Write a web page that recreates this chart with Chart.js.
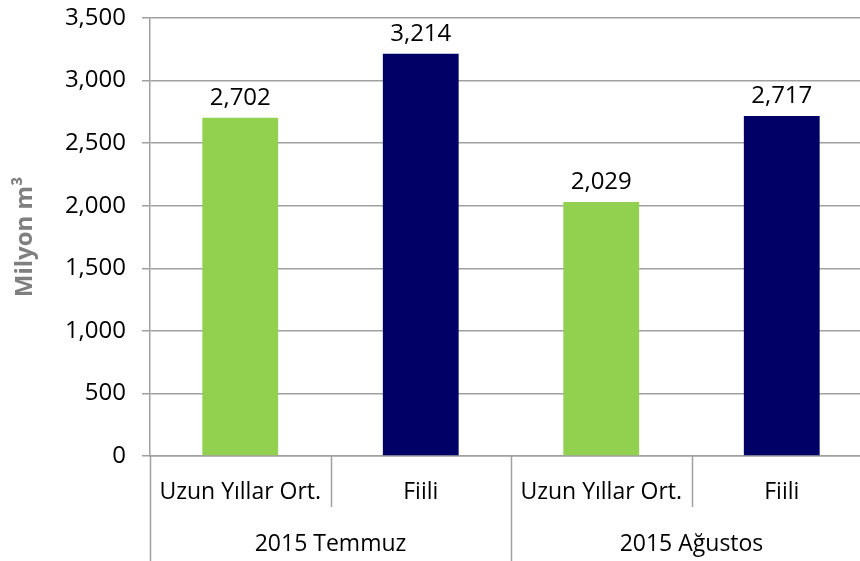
<!DOCTYPE html>
<html>
<head>
<meta charset="utf-8">
<script src="https://cdn.jsdelivr.net/npm/chart.js@4.4.1/dist/chart.umd.min.js"></script>
<style>
    html, body { margin: 0; padding: 0; overflow: hidden; background: #fff; }
    #wrap { position: relative; width: 872px; height: 561px; }
</style>
</head>
<body>
<div id="wrap"><canvas id="waterChart"></canvas></div>
<script>
const categories = ['Uzun Yıllar Ort.', 'Fiili', 'Uzun Yıllar Ort.', 'Fiili'];
const months = ['2015 Temmuz', '2015 Ağustos'];
const volumes = [2702, 3214, 2029, 2717];
const yTicks = [0, 500, 1000, 1500, 2000, 2500, 3000, 3500];
const barColors = ['#92d050', '#000066', '#92d050', '#000066'];

const fontFamily = "'Open Sans', 'DejaVu Sans', sans-serif";
const gridGray = '#a0a0a0';

// value labels above each bar
const valueLabels = {
    id: 'valueLabels',
    afterDatasetsDraw(chart) {
        const ctx = chart.ctx;
        const meta = chart.getDatasetMeta(0);
        ctx.save();
        ctx.font = `24px ${fontFamily}`;
        ctx.fillStyle = '#000';
        ctx.textAlign = 'center';
        ctx.textBaseline = 'alphabetic';
        meta.data.forEach((bar, i) => {
            ctx.fillText(volumes[i].toLocaleString('en-US'), bar.x, bar.y - 13);
        });
        ctx.restore();
    }
};

// separators between the category / month labels
const separators = {
    id: 'separators',
    afterDraw(chart) {
        const ctx = chart.ctx;
        const x = chart.scales.x;
        const half = (x.getPixelForValue(1) - x.getPixelForValue(0)) / 2;
        const top = chart.chartArea.bottom;
        ctx.save();
        ctx.strokeStyle = gridGray;
        ctx.lineWidth = 1.5;
        for (let i = 0; i <= categories.length; i++) {
            const px = Math.round(x.getPixelForValue(i) - half) + 0.5;
            const bottom = i % 2 === 0 ? chart.height : top + 51;
            ctx.beginPath();
            ctx.moveTo(px, top);
            ctx.lineTo(px, bottom);
            ctx.stroke();
        }
        ctx.restore();
    }
};

new Chart(document.getElementById('waterChart'), {
    type: 'bar',
    data: {
        labels: categories,
        datasets: [{
            data: volumes,
            backgroundColor: barColors,
            borderWidth: 0,
            categoryPercentage: 1,
            barPercentage: 0.42
        }]
    },
    options: {
        responsive: true,
        maintainAspectRatio: false,
        animation: false,
        layout: { padding: { top: 18, right: 0, left: 0, bottom: 0 } },
        plugins: {
            legend: { display: false },
            tooltip: { enabled: false }
        },
        scales: {
            y: {
                min: 0,
                max: 3500,
                afterBuildTicks: s => { s.ticks = yTicks.map(v => ({ value: v })); },
                afterFit: s => { s.width = 150; s.paddingTop = 0; s.paddingBottom = 0; },
                ticks: {
                    padding: 16,
                    color: '#000',
                    font: { family: fontFamily, size: 24 },
                    callback: v => v.toLocaleString('en-US')
                },
                grid: { color: gridGray, lineWidth: 1.5, tickLength: 8 },
                border: { color: gridGray, width: 1.5 },
                title: {
                    display: true,
                    text: 'Milyon m³',
                    color: '#7f7f7f',
                    padding: { top: 11, bottom: 0 },
                    font: { family: fontFamily, size: 24, weight: 'bold' }
                }
            },
            x: {
                afterFit: s => { s.height = 51; },
                ticks: {
                    padding: 23,
                    autoSkip: false,
                    maxRotation: 0,
                    color: '#000',
                    font: { family: fontFamily, size: 23 }
                },
                grid: { display: false, drawTicks: false },
                border: { color: gridGray, width: 1.5 }
            },
            x2: {
                type: 'category',
                labels: months,
                position: 'bottom',
                offset: true,
                afterFit: s => { s.height = 54; },
                ticks: {
                    padding: 24,
                    autoSkip: false,
                    maxRotation: 0,
                    color: '#000',
                    font: { family: fontFamily, size: 23 }
                },
                grid: { display: false, drawTicks: false },
                border: { display: false }
            }
        }
    },
    plugins: [valueLabels, separators]
});
</script>
</body>
</html>
